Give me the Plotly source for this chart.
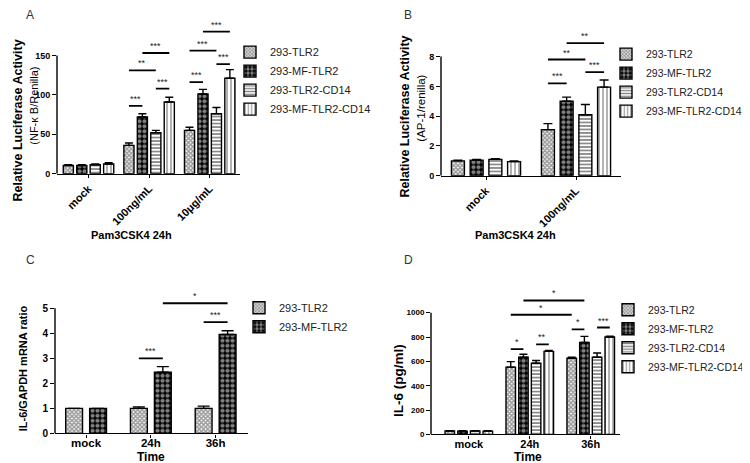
import plotly.graph_objects as go

# ---------------- data ----------------
series = ["293-TLR2", "293-MF-TLR2", "293-TLR2-CD14", "293-MF-TLR2-CD14"]

# Panel A: NF-kB luciferase
a_categories = ["mock", "100ng/mL", "10μg/mL"]
a_tlr2 = [10.5, 36, 55]
a_mf_tlr2 = [10.5, 72, 101]
a_tlr2_cd14 = [11.5, 52, 76]
a_mf_tlr2_cd14 = [12.5, 91, 121]
a_err_tlr2 = [1, 3, 4]
a_err_mf_tlr2 = [1, 4, 6]
a_err_tlr2_cd14 = [1, 3, 8]
a_err_mf_tlr2_cd14 = [1.5, 6, 11]
a_ticks = [0, 50, 100, 150]
# (category, bar, category, bar, height, label)
a_sig = [(1, 0, 1, 1, 86, "***"), (1, 0, 1, 2, 131, "**"), (1, 1, 1, 3, 153, "***"),
         (1, 2, 1, 3, 108, "***"), (2, 0, 2, 1, 116, "***"), (2, 0, 2, 2, 156, "***"),
         (2, 1, 2, 3, 180, "***"), (2, 2, 2, 3, 139, "***")]

# Panel B: AP-1 luciferase
b_categories = ["mock", "100ng/mL"]
b_tlr2 = [1.0, 3.1]
b_mf_tlr2 = [1.05, 5.0]
b_tlr2_cd14 = [1.1, 4.1]
b_mf_tlr2_cd14 = [0.95, 5.95]
b_err_tlr2 = [0.05, 0.4]
b_err_mf_tlr2 = [0.05, 0.28]
b_err_tlr2_cd14 = [0.04, 0.68]
b_err_mf_tlr2_cd14 = [0.05, 0.48]
b_ticks = [0, 2, 4, 6, 8]
b_sig = [(1, 0, 1, 1, 6.2, "***"), (1, 0, 1, 2, 7.8, "**"),
         (1, 1, 1, 3, 8.9, "**"), (1, 2, 1, 3, 6.95, "***")]

# Panel C: IL-6 mRNA
c_categories = ["mock", "24h", "36h"]
c_tlr2 = [1.0, 1.0, 1.0]
c_mf_tlr2 = [1.0, 2.45, 3.95]
c_err_tlr2 = [0.0, 0.06, 0.09]
c_err_mf_tlr2 = [0.0, 0.22, 0.15]
c_ticks = [0, 1, 2, 3, 4, 5]
c_sig = [(1, 0, 1, 1, 3.0, "***"), (1, 1, 2, 1, 5.2, "*"), (2, 0, 2, 1, 4.45, "***")]

# Panel D: IL-6 protein
d_categories = ["mock", "24h", "36h"]
d_tlr2 = [28, 553, 626]
d_mf_tlr2 = [27, 634, 755]
d_tlr2_cd14 = [28, 585, 634]
d_mf_tlr2_cd14 = [27, 682, 800]
d_err_tlr2 = [3, 45, 8]
d_err_mf_tlr2 = [3, 25, 50]
d_err_tlr2_cd14 = [3, 22, 35]
d_err_mf_tlr2_cd14 = [3, 8, 6]
d_ticks = [0, 200, 400, 600, 800, 1000]
d_sig = [(1, 0, 1, 1, 700, "*"), (1, 2, 1, 3, 740, "**"), (2, 0, 2, 1, 862, "*"),
         (2, 2, 2, 3, 878, "***"), (1, 0, 2, 0, 983, "*"), (1, 1, 2, 1, 1100, "*")]

# ---------------- styling ----------------
W, H = 750, 463
FONT = "Arial, Liberation Sans, sans-serif"

PATTERNS = {
    "293-TLR2": dict(shape="x", size=3, solidity=0.7, fgcolor="#333", bgcolor="white"),
    "293-MF-TLR2": dict(shape=".", size=5, solidity=0.55, fgcolor="white", bgcolor="black"),
    "293-TLR2-CD14": dict(shape="-", size=3.5, solidity=0.45, fgcolor="black", bgcolor="white"),
    "293-MF-TLR2-CD14": dict(shape="|", size=4, solidity=0.3, fgcolor="black", bgcolor="white"),
}


def px(x):
    return x / W


def py(y):
    return 1 - y / H


fig = go.Figure()
shapes = []
annotations = []


def add_panel(n, cats, vals, errs, names, slot, width, capw, sig, ticks, yrange,
              xdom, ypix, xrange, legend_name, xtickangle, xtickfont, ytickfont,
              xticklen=4, standoff=0):
    xa = "x" if n == 1 else f"x{n}"
    ya = "y" if n == 1 else f"y{n}"
    k = len(names)
    for i, (name, v, e) in enumerate(zip(names, vals, errs)):
        off = (i - (k - 1) / 2) * slot - width / 2
        fig.add_trace(go.Bar(
            x=cats, y=v, name=name, offset=off, width=width,
            xaxis=xa, yaxis=ya, legend=legend_name,
            marker=dict(color="white", line=dict(color="black", width=1.4),
                        pattern=PATTERNS[name]),
            error_y=dict(type="data", array=e, arrayminus=[0] * len(e), symmetric=False,
                         color="black", thickness=1.4, width=capw),
        ))
    axkey = "xaxis" if n == 1 else f"xaxis{n}"
    aykey = "yaxis" if n == 1 else f"yaxis{n}"
    fig.layout[axkey] = dict(
        domain=[px(xdom[0]), px(xdom[1])], anchor=ya, type="category",
        range=xrange, showline=True, linecolor="black", linewidth=1.4,
        ticks="outside", ticklen=xticklen, tickcolor="black", tickwidth=1.2,
        tickangle=xtickangle, tickfont=xtickfont, showgrid=False, zeroline=False,
        ticklabelstandoff=standoff, fixedrange=True,
    )
    fig.layout[aykey] = dict(
        domain=[py(ypix[1]), py(ypix[0])], anchor=xa, range=yrange,
        showline=False, ticks="outside", ticklen=4, tickcolor="black", tickwidth=1.2,
        tickvals=ticks, tickfont=ytickfont, showgrid=False, zeroline=False,
        fixedrange=True,
    )
    shapes.append(dict(type="line", xref=f"{xa} domain", yref=ya, x0=0, x1=0,
                       y0=0, y1=ticks[-1], line=dict(color="black", width=1.4)))
    for c1, b1, c2, b2, yv, lab in sig:
        x0 = c1 + (b1 - (k - 1) / 2) * slot
        x1 = c2 + (b2 - (k - 1) / 2) * slot
        shapes.append(dict(type="line", xref=xa, yref=ya, x0=x0, x1=x1, y0=yv, y1=yv,
                           line=dict(color="black", width=1.8)))
        annotations.append(dict(xref=xa, yref=ya, x=(x0 + x1) / 2, y=yv, text=lab,
                                showarrow=False, yanchor="bottom", yshift=0,
                                font=dict(size=9, color="#222", family=FONT)))


bold = lambda s: dict(family=FONT, size=s, color="black", weight="bold")

add_panel(1, a_categories,
          [a_tlr2, a_mf_tlr2, a_tlr2_cd14, a_mf_tlr2_cd14],
          [a_err_tlr2, a_err_mf_tlr2, a_err_tlr2_cd14, a_err_mf_tlr2_cd14],
          series, 0.222, 0.167, 4, a_sig, a_ticks, [0, 190],
          (49, 232), (16, 168), [-0.52, 2.5], "legend", -45, bold(11), bold(9), 3)
add_panel(2, b_categories,
          [b_tlr2, b_mf_tlr2, b_tlr2_cd14, b_mf_tlr2_cd14],
          [b_err_tlr2, b_err_mf_tlr2, b_err_tlr2_cd14, b_err_mf_tlr2_cd14],
          series, 0.208, 0.144, 4.5, b_sig, b_ticks, [0, 9.8],
          (433, 613), (22, 170), [-0.5, 1.5], "legend2", -45, bold(11), bold(9), 3)
add_panel(3, c_categories,
          [c_tlr2, c_mf_tlr2], [c_err_tlr2, c_err_mf_tlr2],
          series[:2], 0.37, 0.26, 6, c_sig, c_ticks, [0, 5.6],
          (47, 240), (289, 431), [-0.48, 2.5], "legend3", 0, bold(11.5), bold(10), 3, -4)
add_panel(4, d_categories,
          [d_tlr2, d_mf_tlr2, d_tlr2_cd14, d_mf_tlr2_cd14],
          [d_err_tlr2, d_err_mf_tlr2, d_err_tlr2_cd14, d_err_mf_tlr2_cd14],
          series, 0.208, 0.156, 4, d_sig, d_ticks, [0, 1200],
          (423, 612), (284, 432), [-0.62, 2.48], "legend4", 0, bold(11), bold(8), 3, -4)


def text(x, y, s, size, weight="normal", angle=0, color="black", xanchor="center"):
    annotations.append(dict(xref="paper", yref="paper", x=px(x), y=py(y), text=s,
                            showarrow=False, textangle=angle, xanchor=xanchor,
                            yanchor="middle",
                            font=dict(family=FONT, size=size, color=color, weight=weight)))


# panel letters
text(22, 7, "A", 12, color="#333")
text(400, 7, "B", 12, color="#333")
text(22, 255, "C", 12, color="#333")
text(400, 255, "D", 12, color="#333")

# y titles
text(10, 114, "Relative Luciferase Activity", 12.5, "bold", -90)
text(26, 99, "(NF-κ B/Renilla)", 11, "normal", -90)
text(397, 110, "Relative Luciferase Activity", 12.5, "bold", -90)
text(413, 102, "(AP-1/renilla)", 11.5, "normal", -90)
text(15, 365, "IL-6/GAPDH mRNA ratio", 11, "bold", -90)
text(390, 378, "IL-6 (pg/ml)", 13.5, "bold", -90)

# x titles
text(123, 230, "Pam3CSK4 24h", 11, "bold")
text(507, 230, "Pam3CSK4 24h", 11, "bold")
text(143, 455, "Time", 12, "bold")
text(520, 455, "Time", 12, "bold")

legend_common = dict(bgcolor="rgba(0,0,0,0)", borderwidth=0, xanchor="left",
                     yanchor="top", tracegroupgap=0, itemclick=False)
lfont = lambda s: dict(family=FONT, size=s, color="#222")

fig.update_layout(
    width=W, height=H, margin=dict(l=0, r=0, t=0, b=0),
    paper_bgcolor="white", plot_bgcolor="white",
    barmode="overlay", showlegend=True,
    shapes=shapes, annotations=annotations,
    legend=dict(x=px(222), y=py(30), font=lfont(11), **legend_common),
    legend2=dict(x=px(598), y=py(32), font=lfont(10.5), **legend_common),
    legend3=dict(x=px(231), y=py(289), font=lfont(11), **legend_common),
    legend4=dict(x=px(600), y=py(291), font=lfont(10.5), **legend_common),
)

fig.write_html("out.html")
